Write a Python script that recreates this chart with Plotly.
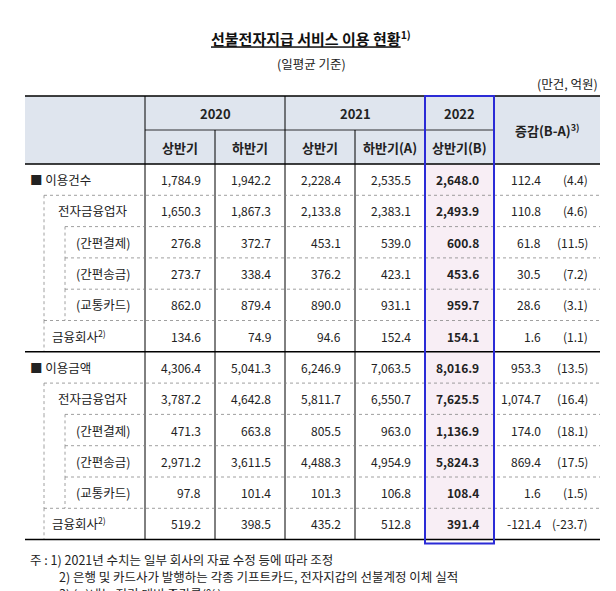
import plotly.graph_objects as go

# table data
labels = ["■ 이용건수", "전자금융업자", "(간편결제)", "(간편송금)", "(교통카드)", "금융회사<sup>2)</sup>",
          "■ 이용금액", "전자금융업자", "(간편결제)", "(간편송금)", "(교통카드)", "금융회사<sup>2)</sup>"]
levels = [0, 1, 2, 2, 2, 1, 0, 1, 2, 2, 2, 1]
h2020a = ["1,784.9", "1,650.3", "276.8", "273.7", "862.0", "134.6",
          "4,306.4", "3,787.2", "471.3", "2,971.2", "97.8", "519.2"]
h2020b = ["1,942.2", "1,867.3", "372.7", "338.4", "879.4", "74.9",
          "5,041.3", "4,642.8", "663.8", "3,611.5", "101.4", "398.5"]
h2021a = ["2,228.4", "2,133.8", "453.1", "376.2", "890.0", "94.6",
          "6,246.9", "5,811.7", "805.5", "4,488.3", "101.3", "435.2"]
h2021b = ["2,535.5", "2,383.1", "539.0", "423.1", "931.1", "152.4",
          "7,063.5", "6,550.7", "963.0", "4,954.9", "106.8", "512.8"]
h2022a = ["2,648.0", "2,493.9", "600.8", "453.6", "959.7", "154.1",
          "8,016.9", "7,625.5", "1,136.9", "5,824.3", "108.4", "391.4"]
diff = ["112.4", "110.8", "61.8", "30.5", "28.6", "1.6",
        "953.3", "1,074.7", "174.0", "869.4", "1.6", "-121.4"]
pct = ["(4.4)", "(4.6)", "(11.5)", "(7.2)", "(3.1)", "(1.1)",
       "(13.5)", "(16.4)", "(18.1)", "(17.5)", "(1.5)", "(-23.7)"]
years = ["2020", "2021", "2022"]
halves = ["상반기", "하반기", "상반기", "하반기(A)", "상반기(B)"]
notes = ["주 : 1) 2021년 수치는 일부 회사의 자료 수정 등에 따라 조정",
         "2) 은행 및 카드사가 발행하는 각종 기프트카드, 전자지갑의 선불계정 이체 실적",
         "3) (   )내는 전기 대비 증감률(%)"]

FONT = "Noto Sans CJK KR"
W, H = 616, 591
cols = [17, 137, 207, 277, 347, 417, 486, 592]
top, mid, hb = 88, 122, 156
rh = 31.3
n = len(labels)
bottom = hb + rh * n

shapes, ann = [], []

def line(x0, y0, x1, y1, color="black", width=1, dash="solid"):
    shapes.append(dict(type="line", x0=x0, y0=y0, x1=x1, y1=y1,
                       line=dict(color=color, width=width, dash=dash)))

def text(x, y, s, size=12, anchor="center", bold=False, color="#222"):
    ann.append(dict(x=x, y=y, text=f"<b>{s}</b>" if bold else s, showarrow=False,
                    xanchor=anchor, yanchor="middle",
                    font=dict(family=FONT, size=size, color=color)))

# fills
shapes.append(dict(type="rect", x0=cols[0], x1=cols[-1], y0=top, y1=hb,
                   fillcolor="#dfe5ee", line_width=0, layer="below"))
shapes.append(dict(type="rect", x0=cols[5], x1=cols[6], y0=hb, y1=bottom,
                   fillcolor="#f8eef5", line_width=0, layer="below"))

# header
line(cols[0], top, cols[-1], top, width=1.5)
line(cols[1], mid, cols[6], mid, width=0.8)
line(cols[0], hb, cols[-1], hb, width=1.5)
for yr, (a, b) in zip(years, [(1, 3), (3, 5), (5, 6)]):
    text((cols[a] + cols[b]) / 2, (top + mid) / 2, yr, 13, bold=True)
for i, hname in enumerate(halves):
    text((cols[i + 1] + cols[i + 2]) / 2, (mid + hb) / 2, hname, 13, bold=True)
text((cols[6] + cols[7]) / 2, (top + hb) / 2, "증감(B-A)<sup>3)</sup>", 13, bold=True)

# verticals
for i, x in enumerate(cols[1:-1], start=1):
    line(x, top if i in (1, 3, 5, 6) else mid, x, bottom, width=1)

# rows
for r in range(n):
    y0 = hb + rh * r
    yc = y0 + rh / 2
    lv = levels[r]
    if r > 0:
        if lv == 0:
            line(cols[0], y0, cols[-1], y0, width=1.5)
        else:
            xs = 36 if lv == 1 else 57
            line(xs, y0, cols[-1], y0, color="#888", width=0.8, dash="dot")
    if lv >= 1:
        line(36, y0, 36, y0 + rh, color="#888", width=0.8, dash="dot")
    if lv == 2:
        line(57, y0, 57, y0 + rh, color="#888", width=0.8, dash="dot")
    lx = {0: 20, 1: 42, 2: 66}[lv]
    if lv == 1 and labels[r].startswith("전자"):
        lx = 48
    text(lx, yc, labels[r], 12.5, anchor="left")
    for c, arr in enumerate([h2020a, h2020b, h2021a, h2021b]):
        text(cols[c + 2] - 12, yc, arr[r], 12, anchor="right")
    text(cols[6] - 13, yc, h2022a[r], 12, anchor="right", bold=True)
    text(535, yc, diff[r], 12, anchor="right")
    text(582, yc, pct[r], 12, anchor="right")

line(cols[0], bottom, cols[-1], bottom, width=1.5)
# 2022 highlight box
shapes.append(dict(type="rect", x0=cols[5], x1=cols[6], y0=top, y1=bottom + 4,
                   line=dict(color="#2b2bd6", width=2)))

# titles
text(W / 2 - 5, 30, "<u>선불전자지급 서비스 이용 현황</u><sup>1)</sup>", 15, bold=True, color="#111")
text(W / 2 - 5, 55, "(일평균 기준)", 12.5)
text(cols[-1], 75, "(만건, 억원)", 12.5, anchor="right")
for i, s in enumerate(notes):
    text(20 if i == 0 else 49, 551 + 17 * i, s, 12.5, anchor="left")

fig = go.Figure()
fig.update_layout(width=W, height=H, margin=dict(l=0, r=0, t=0, b=0),
                  plot_bgcolor="white", paper_bgcolor="white",
                  xaxis=dict(range=[0, W], visible=False, fixedrange=True),
                  yaxis=dict(range=[H, 0], visible=False, fixedrange=True),
                  shapes=shapes, annotations=ann, showlegend=False)
fig.write_html("out.html")
